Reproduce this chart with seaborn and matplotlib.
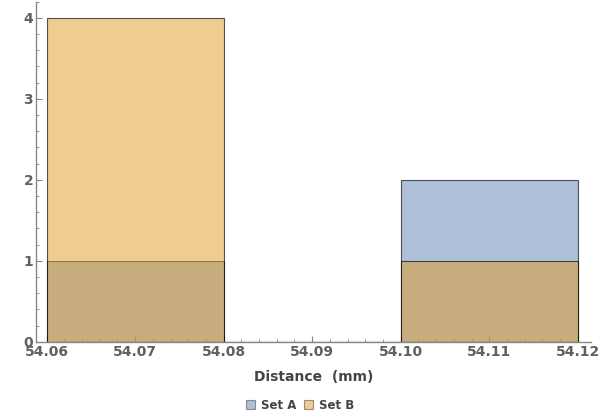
import matplotlib
matplotlib.use("Agg")
import matplotlib.pyplot as plt
from matplotlib.patches import Patch
from matplotlib.ticker import MultipleLocator, FormatStrFormatter
import seaborn as sns

# measured distances (mm)
set_a = [54.07, 54.11, 54.11]
set_b = [54.065, 54.07, 54.07, 54.075, 54.105]
labels = ["Set A", "Set B"]
colors = ["#5e81b5", "#e19c24"]

sns.set_style("white")
plt.rcParams["font.family"] = ["DejaVu Sans"]
grey = "#606060"

fig = plt.figure(figsize=(6, 4.2), dpi=100)
ax = fig.add_axes([0.06, 0.186, 0.925, 0.81])

# Set A first, Set B layered on top
for vals, c in zip([set_a, set_b], colors):
    sns.histplot(
        x=vals, binwidth=0.02, binrange=(54.06, 54.12), color=c, alpha=0.5,
        edgecolor=(0, 0, 0, 0.65), linewidth=0.8, ax=ax,
    )

ax.set_xlim(54.0588, 54.1215)
ax.set_ylim(0, 4.2)
ax.xaxis.set_major_locator(MultipleLocator(0.01))
ax.xaxis.set_minor_locator(MultipleLocator(0.002))
ax.xaxis.set_major_formatter(FormatStrFormatter("%.2f"))
ax.yaxis.set_major_locator(MultipleLocator(1))
ax.yaxis.set_minor_locator(MultipleLocator(0.2))

for side in ["top", "right"]:
    ax.spines[side].set_visible(False)
for side in ["left", "bottom"]:
    ax.spines[side].set_color("#888888")
    ax.spines[side].set_linewidth(1.0)

ax.tick_params(which="both", direction="in", colors="#888888", labelcolor=grey,
               labelsize=10, bottom=True, left=True)
ax.tick_params(which="major", length=4, width=0.8, pad=2)
ax.tick_params(which="minor", length=2, width=0.6)
for lab in ax.get_xticklabels() + ax.get_yticklabels():
    lab.set_fontweight("bold")

ax.set_xlabel("Distance  (mm)", fontsize=10, fontweight="bold", color="#444444", labelpad=8)
ax.set_ylabel("")

handles = [Patch(facecolor=c, alpha=0.5, edgecolor="#333333", linewidth=0.8) for c in colors]
fig.legend(handles, labels, loc="center", bbox_to_anchor=(0.5, 0.035), ncol=2,
           frameon=False, handlelength=0.8, handleheight=0.8, handletextpad=0.5,
           columnspacing=0.6, prop={"size": 8.5, "weight": "bold"}, labelcolor="#444444")

fig.savefig("out.png", dpi=100)
